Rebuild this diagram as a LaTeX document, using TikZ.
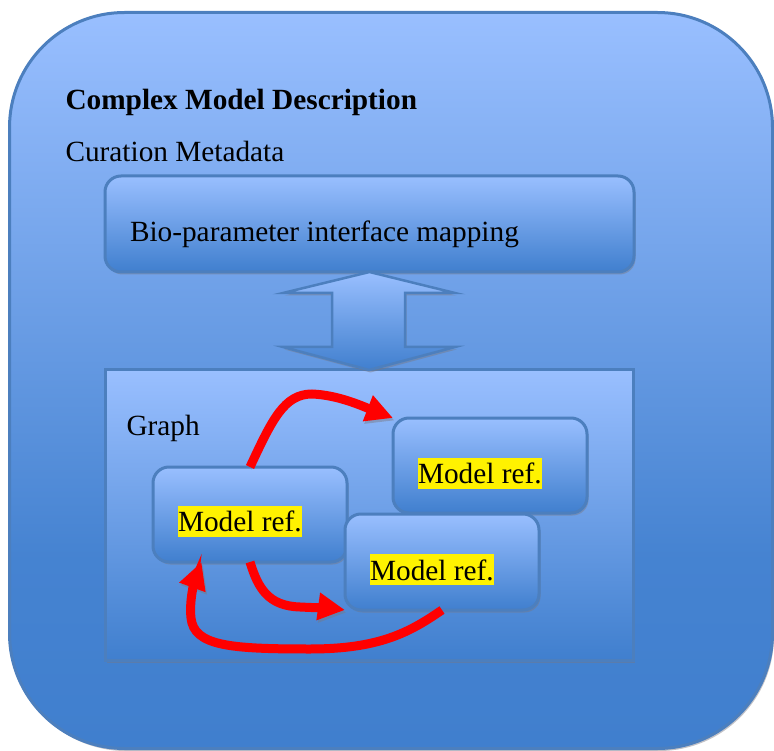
\documentclass[tikz,border=0pt]{standalone}
\usepackage{fontspec}
\setmainfont{Liberation Serif}
\usetikzlibrary{arrows.meta,shadows,calc}
\definecolor{bordercol}{RGB}{76,127,190}
\definecolor{lightb}{RGB}{153,191,255}
\definecolor{darkb}{RGB}{64,127,206}
\definecolor{shadowcol}{RGB}{120,120,130}
\pgfdeclareverticalshading{outershade}{100bp}{color(0bp)=(darkb); color(25bp)=(darkb); color(38bp)=(darkb!94!lightb); color(75bp)=(lightb); color(100bp)=(lightb)}
\begin{document}
\begin{tikzpicture}[x=1pt,y=-1pt,
  every node/.style={inner sep=0pt, outer sep=0pt},
  txt/.style={font=\fontsize{29.3}{34}\selectfont, anchor=base west},
  hl/.style={txt, fill=yellow, inner xsep=0.5pt, text height=25.7pt, text depth=5pt},
  shad/.style={drop shadow={shadow xshift=1.5pt, shadow yshift=-2.5pt, fill=shadowcol, opacity=0.45}},
  outerbox/.style={draw=bordercol, line width=3pt, rounded corners=115pt, shading=outershade, shad},
  box/.style={draw=bordercol, line width=3pt, rounded corners=16pt, top color=lightb, bottom color=darkb, shad},
  sqbox/.style={draw=bordercol, line width=3pt, top color=lightb, bottom color=darkb, shad},
  dblarrow/.style={draw=bordercol, line width=2.5pt, top color=lightb, bottom color=darkb, shad},
  redarr/.style={draw=red, line width=9pt, -{Triangle[length=27pt,width=26pt]},
    preaction={draw=shadowcol, opacity=0.45, transform canvas={xshift=1.5pt,yshift=-2.5pt}}}
]
\useasboundingbox (0,0) rectangle (774,751);

% outer frame
\node[outerbox, minimum width=763pt, minimum height=736pt] (outer) at (391,380.5) {};
\node[txt, font=\fontsize{29.3}{34}\selectfont\bfseries] (title) at (65.5,110) {Complex Model Description};
\node[txt] (cur) at (65.5,161.5) {Curation Metadata};

% graph box
\node[sqbox, minimum width=528pt, minimum height=290pt] (graph) at (369,515) {};
\node[txt] (glabel) at (126.5,435) {Graph};

% bio box
\node[box, minimum width=529pt, minimum height=96pt] (bio) at (369.5,224) {};
\node[txt] (biotext) at (130,241.7) {Bio-parameter interface mapping};

% double block arrow
\coordinate (ta) at (bio.south);
\coordinate (ba) at (graph.north);
\draw[dblarrow] (ta) -- ($(ta)+(85.5,21)$) -- ($(ta)+(35.5,21)$) -- ($(ba)+(36,-23)$)
  -- ($(ba)+(86,-23)$) -- (ba) -- ($(ba)+(-86,-23)$) -- ($(ba)+(-37,-23)$)
  -- ($(ta)+(-37.5,21)$) -- ($(ta)+(-86.5,21)$) -- cycle;

% model boxes
\node[box, minimum width=194pt, minimum height=95pt] (A) at (250,514.5) {};
\node[box, minimum width=194pt, minimum height=95pt] (B) at (490,465.5) {};
\node[box, minimum width=194pt, minimum height=96pt] (C) at (442,562) {};
\node[hl] (la) at (177.5,531.7) {Model ref.};
\node[hl] (lb) at (417.5,483.7) {Model ref.};
\node[hl] (lc) at (369.6,580) {Model ref.};

% red connectors
\draw[redarr] (A.north) .. controls (272,420) and (284,394) .. (312,394)
  .. controls (338,395) and (362,406) .. (B.north west);
\draw[redarr] (A.south) .. controls (258,588) and (268,606) .. (300,607)
  .. controls (320,608) and (330,608) .. (C.south west);
\draw[redarr] (C.south) .. controls (410,632) and (380,649) .. (310,649)
  .. controls (230,649) and (194,646) .. (191,618)
  .. controls (189,600) and (195,580) .. ([xshift=-48.5pt]A.south);
\end{tikzpicture}
\end{document}
